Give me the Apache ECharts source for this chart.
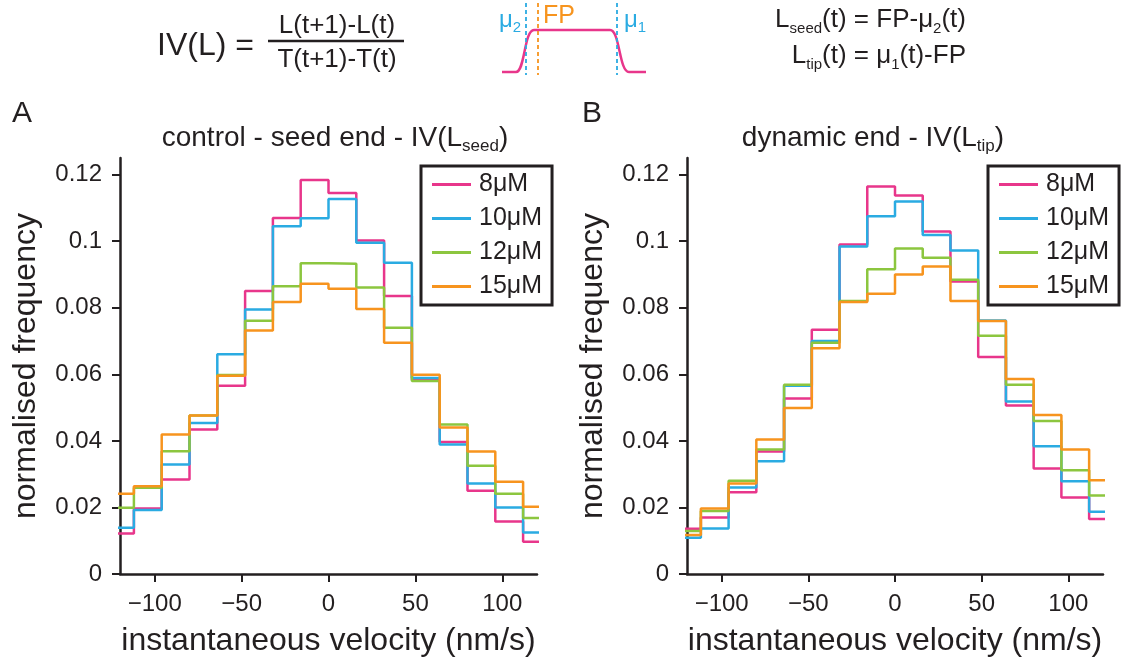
<!DOCTYPE html>
<html>
<head>
<meta charset="utf-8">
<script src="https://cdn.jsdelivr.net/npm/echarts@6/dist/echarts.min.js"></script>
<style>
  html, body { margin: 0; padding: 0; background: #fff; }
  #chart { width: 1125px; height: 662px; }
</style>
</head>
<body>
<div id="chart"></div>
<script>
// Histogram bin edges (nm/s); each series value belongs to the bin that starts at the same index
const binEdges = [-128, -112, -96, -80, -64, -48, -32, -16, 0, 16, 32, 48, 64, 80, 96, 112, 128];
const concentrations = ['8μM', '10μM', '12μM', '15μM'];

// Panel A: control - seed end
const seed8  = [0.0122, 0.0197, 0.0284, 0.0434, 0.0566, 0.0850, 0.1070, 0.1184, 0.1145, 0.1002, 0.0835, 0.0584, 0.0397, 0.0250, 0.0158, 0.0097];
const seed10 = [0.0139, 0.0192, 0.0329, 0.0454, 0.0660, 0.0795, 0.1045, 0.1069, 0.1127, 0.0995, 0.0935, 0.0589, 0.0389, 0.0272, 0.0200, 0.0125];
const seed12 = [0.0199, 0.0259, 0.0369, 0.0476, 0.0598, 0.0761, 0.0865, 0.0934, 0.0932, 0.0861, 0.0740, 0.0580, 0.0449, 0.0325, 0.0241, 0.0168];
const seed15 = [0.0241, 0.0264, 0.0419, 0.0476, 0.0596, 0.0732, 0.0817, 0.0872, 0.0857, 0.0796, 0.0695, 0.0599, 0.0440, 0.0368, 0.0277, 0.0202];

// Panel B: dynamic end
const tip8  = [0.0136, 0.0170, 0.0246, 0.0368, 0.0527, 0.0734, 0.0990, 0.1164, 0.1137, 0.1029, 0.0879, 0.0652, 0.0506, 0.0317, 0.0230, 0.0165];
const tip10 = [0.0109, 0.0137, 0.0260, 0.0339, 0.0566, 0.0700, 0.0984, 0.1075, 0.1119, 0.1019, 0.0972, 0.0762, 0.0518, 0.0384, 0.0279, 0.0187];
const tip12 = [0.0129, 0.0189, 0.0280, 0.0374, 0.0569, 0.0695, 0.0820, 0.0916, 0.0978, 0.0950, 0.0884, 0.0716, 0.0569, 0.0460, 0.0312, 0.0236];
const tip15 = [0.0117, 0.0197, 0.0272, 0.0404, 0.0499, 0.0678, 0.0817, 0.0842, 0.0900, 0.0924, 0.0820, 0.0760, 0.0586, 0.0478, 0.0374, 0.0282];

const xTicks = [-100, -50, 0, 50, 100];
const yTicks = [0, 0.02, 0.04, 0.06, 0.08, 0.1, 0.12];

const colors = ['#E8368B', '#2AABE2', '#8CC63F', '#F7941E'];
const ink = '#231F20';
const FONT = '"Liberation Sans", Arial, Helvetica, sans-serif';

// Turn a list of bin heights into step-line points over the bin edges
function stepPoints(values) {
  const pts = values.map((v, i) => [binEdges[i], v]);
  pts.push([binEdges[values.length], values[values.length - 1]]);
  return pts;
}

function xAxisFor(gridIndex) {
  return {
    type: 'value', gridIndex, min: -120, max: 120,
    name: 'instantaneous velocity (nm/s)', nameLocation: 'middle', nameGap: 51,
    nameTextStyle: { fontSize: 32, color: ink, fontFamily: FONT },
    axisLine: { onZero: false, lineStyle: { color: ink, width: 2.5 } },
    axisTick: { customValues: xTicks, length: 8, lineStyle: { color: ink, width: 2 } },
    axisLabel: {
      customValues: xTicks, margin: 18, fontSize: 24, color: ink, fontFamily: FONT,
      formatter: v => (v < 0 ? '\u2212' + (-v) : String(v))
    },
    splitLine: { show: false }
  };
}

function yAxisFor(gridIndex) {
  return {
    type: 'value', gridIndex, min: 0, max: 0.125,
    name: 'normalised frequency', nameLocation: 'middle', nameGap: 78,
    nameTextStyle: { fontSize: 32, color: ink, fontFamily: FONT },
    axisLine: { onZero: false, lineStyle: { color: ink, width: 2.5 } },
    axisTick: { customValues: yTicks, length: 8, lineStyle: { color: ink, width: 2 } },
    axisLabel: {
      customValues: yTicks, margin: 18, fontSize: 24, color: ink, fontFamily: FONT,
      formatter: v => String(+(+v).toFixed(3))
    },
    splitLine: { show: false }
  };
}

function histSeries(name, values, idx, color) {
  return {
    type: 'line', name, step: 'end', xAxisIndex: idx, yAxisIndex: idx,
    data: stepPoints(values), showSymbol: false, clip: true,
    color, lineStyle: { width: 2.5, color }
  };
}

function legendAt(left) {
  return {
    data: concentrations, orient: 'vertical', left, top: 166,
    icon: 'rect', itemWidth: 39, itemHeight: 3, itemGap: 9,
    padding: [6, 10, 6, 11], borderColor: ink, borderWidth: 3,
    selectedMode: false,
    textStyle: { fontSize: 25, lineHeight: 25, color: ink, fontFamily: FONT, padding: [0, 0, 0, 3] }
  };
}

const seedSets = [seed8, seed10, seed12, seed15];
const tipSets = [tip8, tip10, tip12, tip15];

const series = [];
concentrations.forEach((c, i) => series.push(histSeries(c, seedSets[i], 0, colors[i])));
concentrations.forEach((c, i) => series.push(histSeries(c, tipSets[i], 1, colors[i])));

// Rich-text styles shared by the headings and formulas
function richStyles(size, sub, color) {
  return {
    m: { fontSize: size, fontFamily: FONT, fill: color, lineHeight: size + 6, verticalAlign: 'middle' },
    s: { fontSize: sub, fontFamily: FONT, fill: color, lineHeight: Math.round(size * 0.62), verticalAlign: 'bottom' }
  };
}

function richText(x, y, text, size, sub, color, align) {
  return {
    type: 'text', x, y, silent: true,
    style: {
      text, rich: richStyles(size, sub, color), fill: color,
      align: align || 'left', verticalAlign: 'middle', font: size + 'px ' + FONT
    }
  };
}

function seg(x1, y1, x2, y2, stroke, width, dash) {
  const style = { stroke, lineWidth: width };
  if (dash) style.lineDash = dash;
  return { type: 'line', silent: true, shape: { x1, y1, x2, y2 }, style };
}

function curve(x1, y1, cpx1, cpy1, cpx2, cpy2, x2, y2, stroke) {
  return {
    type: 'bezierCurve', silent: true,
    shape: { x1, y1, cpx1, cpy1, cpx2, cpy2, x2, y2 },
    style: { stroke, lineWidth: 2.5, fill: null }
  };
}

const pink = colors[0], blue = colors[1], orange = colors[3];

const graphic = [
  // panel letters
  { type: 'text', x: 12, y: 114, style: { text: 'A', fontSize: 30, fontFamily: FONT, fill: ink, verticalAlign: 'middle' } },
  { type: 'text', x: 582, y: 114, style: { text: 'B', fontSize: 30, fontFamily: FONT, fill: ink, verticalAlign: 'middle' } },
  // panel headings
  richText(335, 138, '{m|control - seed end - IV(L}{s|seed}{m|)}', 28, 17, ink, 'center'),
  richText(873, 138, '{m|dynamic end - IV(L}{s|tip}{m|)}', 28, 17, ink, 'center'),

  // definition of instantaneous velocity
  { type: 'text', x: 157, y: 46, style: { text: 'IV(L) =', fontSize: 32, fontFamily: FONT, fill: ink, verticalAlign: 'middle' } },
  { type: 'text', x: 337, y: 26, style: { text: 'L(t+1)-L(t)', fontSize: 26, fontFamily: FONT, fill: ink, align: 'center', verticalAlign: 'middle' } },
  seg(268, 41, 404, 41, ink, 2.5),
  { type: 'text', x: 337, y: 60, style: { text: 'T(t+1)-T(t)', fontSize: 26, fontFamily: FONT, fill: ink, align: 'center', verticalAlign: 'middle' } },

  // intensity profile sketch with fitted edges and focus point
  seg(502, 72, 516, 72, pink, 2.5),
  curve(516, 72, 525, 72, 524, 30, 534, 30, pink),
  seg(534, 30, 610, 30, pink, 2.5),
  curve(610, 30, 620, 30, 619, 72, 629, 72, pink),
  seg(629, 72, 646, 72, pink, 2.5),
  seg(526, 3, 526, 75, blue, 1.8, [4, 3]),
  seg(617, 3, 617, 75, blue, 1.8, [4, 3]),
  seg(538, 3, 538, 75, orange, 1.8, [4, 3]),
  richText(499, 20, '{m|μ}{s|2}', 24, 15, blue, 'left'),
  { type: 'text', x: 543, y: 16, style: { text: 'FP', fontSize: 25, fontFamily: FONT, fill: orange, verticalAlign: 'middle' } },
  richText(624, 20, '{m|μ}{s|1}', 24, 15, blue, 'left'),

  // edge-length definitions
  richText(966, 20, '{m|L}{s|seed}{m|(t) = FP-μ}{s|2}{m|(t)}', 26, 15, ink, 'right'),
  richText(966, 56, '{m|L}{s|tip}{m|(t) = μ}{s|1}{m|(t)-FP}', 26, 15, ink, 'right')
];

const chart = echarts.init(document.getElementById('chart'), null, { renderer: 'canvas' });
chart.setOption({
  animation: false,
  backgroundColor: '#fff',
  textStyle: { fontFamily: FONT },
  grid: [
    { left: 120, right: 588, top: 158, bottom: 88 },
    { left: 687, right: 22, top: 158, bottom: 88 }
  ],
  xAxis: [xAxisFor(0), xAxisFor(1)],
  yAxis: [yAxisFor(0), yAxisFor(1)],
  legend: [legendAt(421), legendAt(988)],
  series,
  graphic
});
</script>
</body>
</html>
